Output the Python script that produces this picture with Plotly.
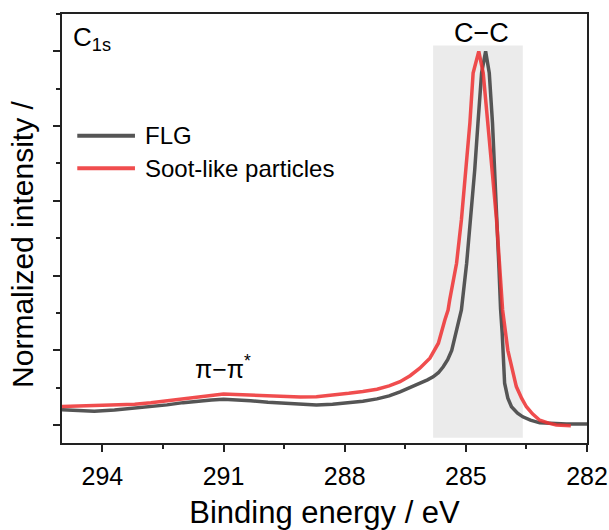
import plotly.graph_objects as go

# FLG spectrum (binding energy in eV, normalized intensity)
flg_energy = [295.0, 294.6, 294.2, 293.7, 293.2, 292.8, 292.4, 292.0, 291.7, 291.3, 291.0, 290.7,
              290.33, 289.9, 289.5, 289.1, 288.7, 288.3, 287.9, 287.55, 287.2, 286.9,
              286.63, 286.38, 286.14, 285.95, 285.81, 285.68, 285.56, 285.45, 285.35, 285.21,
              285.11, 284.98, 284.88, 284.78, 284.7, 284.61, 284.51, 284.42, 284.34, 284.28,
              284.22, 284.18, 284.14, 284.10, 284.04, 283.96, 283.87, 283.72, 283.59, 283.4,
              283.17, 282.85, 282.51, 282.0]
flg_intensity = [0.041, 0.039, 0.037, 0.040, 0.045, 0.049, 0.054, 0.060, 0.064, 0.067, 0.069, 0.068,
                 0.065, 0.061, 0.058, 0.055, 0.054, 0.056, 0.060, 0.064, 0.070, 0.078,
                 0.089, 0.100, 0.112, 0.121, 0.129, 0.140, 0.156, 0.175, 0.200, 0.263,
                 0.308, 0.433, 0.549, 0.683, 0.808, 0.942, 1.0, 0.942, 0.808, 0.67,
                 0.55, 0.42, 0.31, 0.246, 0.112, 0.072, 0.049, 0.032, 0.022, 0.013,
                 0.006, 0.004, 0.003, 0.003]

# Soot-like particles spectrum
soot_energy = [295.0, 294.6, 294.2, 293.7, 293.2, 292.8, 292.4, 292.0, 291.7, 291.3, 291.0, 290.7,
               290.33, 289.9, 289.5, 289.1, 288.7, 288.3, 287.9, 287.55, 287.2, 286.9,
               286.63, 286.38, 286.14, 285.89, 285.68, 285.52, 285.44, 285.40, 285.23, 285.11,
               285.0, 284.98, 284.9, 284.82, 284.68, 284.57, 284.45, 284.34, 284.24, 284.16,
               284.09, 283.96, 283.85, 283.75, 283.62, 283.5, 283.35, 283.17, 282.95, 282.76,
               282.4]
soot_intensity = [0.050, 0.051, 0.052, 0.054, 0.056, 0.060, 0.065, 0.071, 0.076, 0.080, 0.083, 0.082,
                  0.080, 0.078, 0.076, 0.075, 0.076, 0.080, 0.085, 0.090, 0.096, 0.105,
                  0.116, 0.132, 0.152, 0.179, 0.219, 0.281, 0.308, 0.335, 0.433, 0.549,
                  0.683, 0.718, 0.808, 0.942, 1.0, 0.942, 0.808, 0.67, 0.549, 0.415,
                  0.308, 0.2, 0.145, 0.103, 0.072, 0.049, 0.030, 0.013, 0.005, 0.0,
                  -0.002]

x_ticks = [294, 291, 288, 285, 282]
cc_region = [285.81, 283.59]
series_names = ["FLG", "Soot-like particles"]
series_colors = ["#555555", "rgba(238,50,52,0.87)"]

FONT = "Arial, Liberation Sans, sans-serif"

fig = go.Figure()

fig.add_shape(type="rect", xref="x", yref="y", x0=cc_region[0], x1=cc_region[1],
              y0=-0.034, y1=1.016, fillcolor="#ebebeb", line_width=0, layer="below")

fig.add_trace(go.Scatter(x=flg_energy, y=flg_intensity, mode="lines", name=series_names[0],
                         showlegend=False,
                         line=dict(color=series_colors[0], width=3.5)))
fig.add_trace(go.Scatter(x=soot_energy, y=soot_intensity, mode="lines", name=series_names[1],
                         showlegend=False,
                         line=dict(color=series_colors[1], width=3.5)))

# legend drawn in paper coordinates
legend_y = [0.7163, 0.6403]
for name, color, ly in zip(series_names, series_colors, legend_y):
    fig.add_shape(type="line", xref="paper", yref="paper", x0=0.0291, x1=0.139,
                  y0=ly, y1=ly, line=dict(color=color, width=4))
    fig.add_annotation(x=0.1537, y=ly, xref="paper", yref="paper", text=name,
                       showarrow=False, xanchor="left", yanchor="middle",
                       font=dict(size=24, color="black", family=FONT))

fig.add_annotation(x=294.78, y=1.035, xref="x", yref="y", text="C<sub>1s</sub>",
                   showarrow=False, xanchor="left", yanchor="middle",
                   font=dict(size=26, color="black", family=FONT))
fig.add_annotation(x=284.62, y=1.05, xref="x", yref="y", text="C−C",
                   showarrow=False, xanchor="center", yanchor="middle",
                   font=dict(size=27, color="black", family=FONT))
fig.add_annotation(x=291.01, y=0.155, xref="x", yref="y", text="π−π<sup>*</sup>",
                   showarrow=False, xanchor="center", yanchor="middle",
                   font=dict(size=25, color="black", family=FONT))

# y-axis title (placed as rotated text to match its position)
fig.add_annotation(x=-0.0743, y=0.464, xref="paper", yref="paper",
                   text="Normalized intensity /", textangle=-90, showarrow=False,
                   xanchor="center", yanchor="middle",
                   font=dict(size=30, color="black", family=FONT))

fig.update_layout(
    width=609, height=530,
    margin=dict(l=62, r=22, t=14, b=87, autoexpand=False),
    paper_bgcolor="white", plot_bgcolor="white",
    font=dict(family=FONT, color="black", size=25),
    showlegend=False,
)

fig.update_xaxes(range=[295, 282], tickvals=x_ticks, ticktext=[str(v) for v in x_ticks],
                 ticks="outside", ticklen=7, tickwidth=1.5, tickcolor="#222",
                 showline=True, linecolor="#222", linewidth=1.8, mirror=True,
                 showgrid=False, zeroline=False, ticklabelstandoff=3,
                 tickfont=dict(size=25, family=FONT),
                 minor=dict(dtick=1.5, tick0=282, ticks="outside", ticklen=4,
                            tickwidth=1.5, tickcolor="#222", showgrid=False),
                 title=dict(text="Binding energy / eV", font=dict(size=31, family=FONT),
                            standoff=20))
fig.update_yaxes(range=[-0.048, 1.1], tick0=0, dtick=0.2, showticklabels=False,
                 ticks="outside", ticklen=7, tickwidth=1.5, tickcolor="#222",
                 showline=True, linecolor="#222", linewidth=1.8, mirror=True,
                 showgrid=False, zeroline=False,
                 minor=dict(dtick=0.1, tick0=0, ticks="outside", ticklen=4,
                            tickwidth=1.5, tickcolor="#222", showgrid=False))

fig.write_html("out.html")
